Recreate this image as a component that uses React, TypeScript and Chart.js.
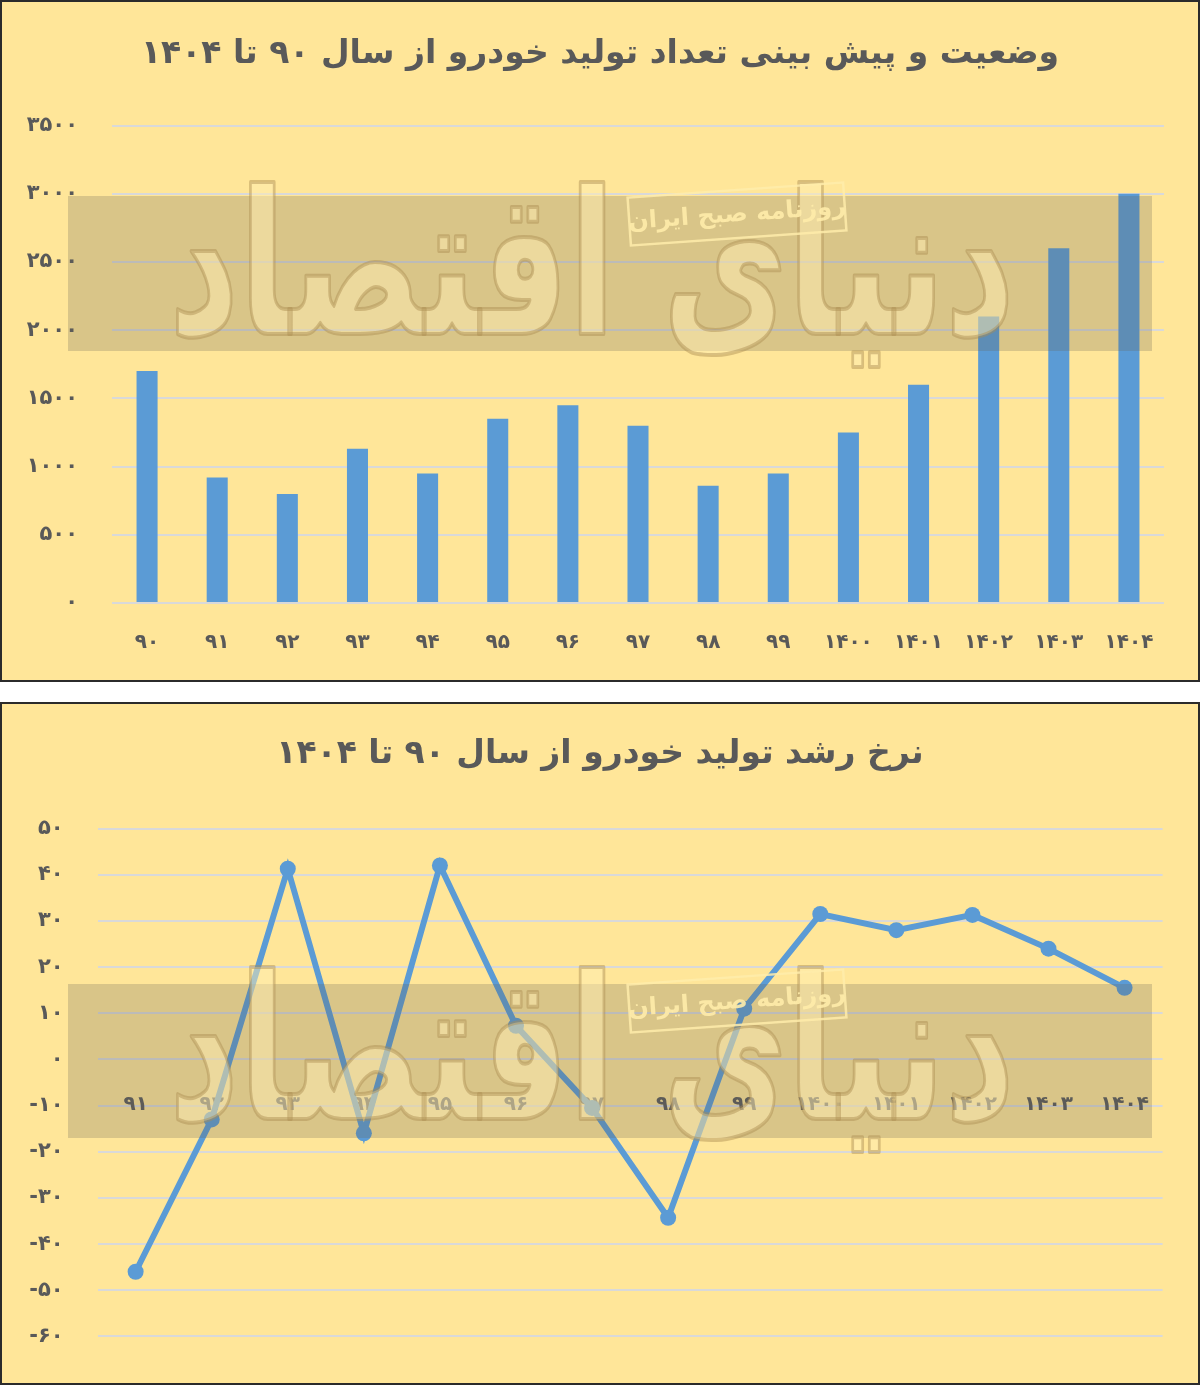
import { useEffect, useRef } from "react"
import Chart from "chart.js/auto"

// داده‌ها
const barYears = ["۹۰", "۹۱", "۹۲", "۹۳", "۹۴", "۹۵", "۹۶", "۹۷", "۹۸", "۹۹", "۱۴۰۰", "۱۴۰۱", "۱۴۰۲", "۱۴۰۳", "۱۴۰۴"]
const production = [1700, 920, 800, 1130, 950, 1350, 1450, 1300, 860, 950, 1250, 1600, 2100, 2600, 3000]
const productionTicks = ["۰", "۵۰۰", "۱۰۰۰", "۱۵۰۰", "۲۰۰۰", "۲۵۰۰", "۳۰۰۰", "۳۵۰۰"]

const growthYears = ["۹۱", "۹۲", "۹۳", "۹۴", "۹۵", "۹۶", "۹۷", "۹۸", "۹۹", "۱۴۰۰", "۱۴۰۱", "۱۴۰۲", "۱۴۰۳", "۱۴۰۴"]
const growth = [-46, -13, 41.3, -16, 42, 7.3, -10.5, -34.3, 11, 31.5, 28, 31.3, 24, 15.5]
const growthTicks = ["-۶۰", "-۵۰", "-۴۰", "-۳۰", "-۲۰", "-۱۰", "۰", "۱۰", "۲۰", "۳۰", "۴۰", "۵۰"]

const titleTop = "وضعیت و پیش بینی تعداد تولید خودرو از سال ۹۰ تا ۱۴۰۴"
const titleBottom = "نرخ رشد تولید خودرو از سال ۹۰ تا ۱۴۰۴"

const FONT = '"DejaVu Sans", sans-serif'
const TEXT = "#595959"
const BLUE = "#5B9BD5"
const GRID = "#D9D9D9"
const BG = "#FFE699"

const watermark = {
  id: "watermark",
  afterDraw(chart: any, _args: any, opts: any) {
    const { ctx } = chart
    ctx.save()
    // dark band
    ctx.fillStyle = "rgba(103, 98, 89, 0.25)"
    ctx.fillRect(opts.bandLeft, opts.bandTop, opts.bandRight - opts.bandLeft, opts.bandBottom - opts.bandTop)
    // big logo, squeezed horizontally
    ctx.save()
    ctx.translate(opts.logoX, opts.logoY)
    ctx.scale(0.68, 1)
    ctx.direction = "rtl"
    ctx.font = `bold 200px ${FONT}`
    ctx.textAlign = "center"
    ctx.textBaseline = "alphabetic"
    ctx.lineJoin = "round"
    ctx.fillStyle = "rgba(255, 238, 178, 0.5)"
    ctx.strokeStyle = "rgba(170, 140, 80, 0.45)"
    ctx.lineWidth = 4
    ctx.fillText("دنیای اقتصاد", 0, 0)
    ctx.strokeText("دنیای اقتصاد", 0, 0)
    ctx.restore()
    // stamp
    ctx.translate(opts.stampX, opts.stampY)
    ctx.rotate((-4 * Math.PI) / 180)
    ctx.strokeStyle = "rgba(255, 236, 170, 0.85)"
    ctx.lineWidth = 2.5
    ctx.strokeRect(-108, -24, 216, 48)
    ctx.font = `bold 24px ${FONT}`
    ctx.fillStyle = "rgba(255, 236, 170, 0.9)"
    ctx.textAlign = "center"
    ctx.textBaseline = "middle"
    ctx.fillText("روزنامه صبح ایران", 0, 1)
    ctx.restore()
  },
}

// empty right-hand axis that only keeps the chart area off the right edge,
// so the full-width title stays centred on the panel
const spacerAxis = (width: number) => ({
  type: "linear",
  position: "right",
  grid: { display: false },
  border: { display: false },
  ticks: { display: false },
  afterFit: (s: any) => { s.width = width },
})

function useChart(config: any) {
  const chartRef = useRef<HTMLCanvasElement>(null)
  const chartInstance = useRef<Chart | null>(null)

  useEffect(() => {
    if (chartRef.current) {
      const ctx = chartRef.current.getContext("2d")
      if (ctx) {
        if (chartInstance.current) {
          chartInstance.current.destroy()
        }
        chartInstance.current = new Chart(ctx, config)
      }
    }
    return () => {
      if (chartInstance.current) {
        chartInstance.current.destroy()
        chartInstance.current = null
      }
    }
  }, [])

  return chartRef
}

function ProductionChart() {
  const ref = useChart({
    type: "bar",
    data: {
      labels: barYears,
      datasets: [
        {
          data: production,
          backgroundColor: BLUE,
          barPercentage: 0.3,
          categoryPercentage: 1,
        },
      ],
    },
    options: {
      animation: false,
      responsive: true,
      maintainAspectRatio: false,
      layout: { padding: 0 },
      plugins: {
        legend: { display: false },
        tooltip: { enabled: false },
        title: {
          display: true,
          text: titleTop,
          color: TEXT,
          font: { family: FONT, size: 33, weight: "bold" },
          padding: { top: 33, bottom: 51 },
        },
        watermark: {
          bandLeft: 66, bandRight: 1150, bandTop: 194, bandBottom: 349,
          logoX: 590, logoY: 332,
          stampX: 735, stampY: 212,
        },
      },
      scales: {
        x: {
          grid: { display: false },
          border: { display: false },
          ticks: { color: TEXT, font: { family: FONT, size: 20, weight: "bold" }, padding: 20 },
          afterFit: (s: any) => { s.height = 77 },
        },
        y: {
          min: 0,
          max: 3500,
          grid: { color: GRID, lineWidth: 2, drawTicks: false },
          border: { display: false },
          ticks: {
            stepSize: 500,
            padding: 34,
            color: TEXT,
            font: { family: FONT, size: 21, weight: "bold" },
            callback: (_v: any, i: number) => productionTicks[i],
          },
          afterFit: (s: any) => { s.width = 110 },
        },
        spacer: spacerAxis(34),
      },
    },
    plugins: [watermark],
  })
  return <canvas ref={ref} />
}

function GrowthChart() {
  const ref = useChart({
    type: "line",
    data: {
      labels: growthYears,
      datasets: [
        {
          data: growth,
          borderColor: BLUE,
          backgroundColor: BLUE,
          borderWidth: 6,
          pointRadius: 8,
          pointBorderWidth: 0,
          pointBackgroundColor: BLUE,
          tension: 0,
        },
      ],
    },
    options: {
      animation: false,
      responsive: true,
      maintainAspectRatio: false,
      layout: { padding: { left: 0, right: 0, top: 0, bottom: 37 } },
      plugins: {
        legend: { display: false },
        tooltip: { enabled: false },
        title: {
          display: true,
          text: titleBottom,
          color: TEXT,
          font: { family: FONT, size: 33, weight: "bold" },
          padding: { top: 31, bottom: 54 },
        },
        watermark: {
          bandLeft: 66, bandRight: 1150, bandTop: 280, bandBottom: 434,
          logoX: 590, logoY: 415,
          stampX: 735, stampY: 297,
        },
      },
      scales: {
        x: {
          position: { y: 0 },
          offset: true,
          grid: { display: false },
          border: { display: false },
          ticks: { color: TEXT, font: { family: FONT, size: 20, weight: "bold" }, padding: 25 },
        },
        y: {
          min: -60,
          max: 50,
          grid: { color: GRID, lineWidth: 2, drawTicks: false },
          border: { display: false },
          ticks: {
            stepSize: 10,
            padding: 34,
            color: TEXT,
            font: { family: FONT, size: 21, weight: "bold" },
            callback: (_v: any, i: number) => growthTicks[i],
          },
          afterFit: (s: any) => { s.width = 95.6 },
        },
        spacer: spacerAxis(35.4),
      },
    },
    plugins: [watermark],
  })
  return <canvas ref={ref} />
}

const panelStyle = (height: number): React.CSSProperties => ({
  position: "relative",
  width: 1200,
  height,
  boxSizing: "border-box",
  border: "2px solid #2b2b2b",
  background: BG,
})

export default function App() {
  useEffect(() => {
    document.body.style.margin = "0"
    document.body.style.background = "#ffffff"
  }, [])

  return (
    <div style={{ width: 1200 }}>
      <div style={panelStyle(682)}>
        <div style={{ position: "absolute", inset: 0 }}>
          <ProductionChart />
        </div>
      </div>
      <div style={{ height: 20 }} />
      <div style={panelStyle(683)}>
        <div style={{ position: "absolute", inset: 0 }}>
          <GrowthChart />
        </div>
      </div>
    </div>
  )
}
